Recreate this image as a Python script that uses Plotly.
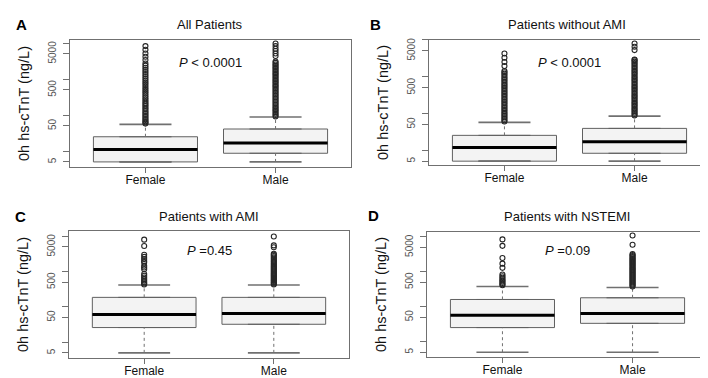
import plotly.graph_objects as go

W, H = 708, 378

groups = ["Female", "Male"]
positions = [1, 2]

panel_letters = ["A", "B", "C", "D"]
panel_titles = ["All Patients", "Patients without AMI", "Patients with AMI", "Patients with NSTEMI"]
p_texts = ["<i>P</i> &lt; 0.0001", "<i>P</i> &lt; 0.0001", "<i>P</i> =0.45", "<i>P</i> =0.09"]

# box statistics per panel: [Female, Male]
q1 = [[5, 8.7], [5, 8.2], [26, 32.2], [25.3, 33.5]]
median = [[11, 16.8], [11.7, 17], [60.5, 64.6], [56.6, 64.4]]
q3 = [[25, 41], [25.2, 39], [186, 186], [161, 180]]
lower = [[5, 5], [5, 5], [5, 5], [5, 5]]
upper = [[55, 88], [56.7, 84], [415, 415], [378, 354]]

outliers_A_f = [58, 62, 67, 73, 80, 88, 97, 107, 118, 130, 144, 160, 178, 198, 220, 245, 275, 310,
                350, 395, 445, 500, 565, 640, 725, 820, 930, 1050, 1200, 1370, 1570, 1800, 2060,
                2360, 2700, 3380, 4170, 5150, 6520, 8240]
outliers_A_m = [92, 100, 110, 121, 133, 146, 160, 176, 194, 213, 235, 258, 284, 312, 343, 378, 415,
                457, 502, 552, 608, 668, 735, 810, 890, 980, 1080, 1190, 1310, 1440, 1580, 1740,
                1920, 2110, 2320, 2550, 2810, 3090, 4370, 5150, 6000, 6930, 8240, 9720]
outliers_B_f = [60, 65, 71, 78, 86, 95, 104, 115, 127, 140, 154, 170, 187, 206, 227, 250, 276, 304,
                335, 369, 407, 448, 494, 545, 600, 662, 730, 805, 887, 978, 1080, 1190, 1310, 1420,
                1940, 2490, 3260, 4260]
outliers_B_m = [88, 96, 105, 115, 126, 138, 151, 165, 181, 198, 217, 238, 260, 285, 312, 342, 375,
                410, 450, 492, 540, 590, 648, 710, 777, 851, 933, 1020, 1120, 1230, 1340, 1470,
                1610, 1770, 1940, 2120, 2330, 2550, 2800, 2930, 5260, 6470, 7940]
outliers_C_f = [430, 460, 500, 550, 610, 680, 760, 850, 1170, 1300, 1460, 1810, 2000, 2250, 2600,
                2990, 5300, 8000]
outliers_C_m = [430, 455, 480, 510, 540, 575, 610, 650, 690, 735, 780, 830, 885, 940, 1000, 1070,
                1140, 1220, 1300, 1390, 1490, 1600, 1720, 1850, 2000, 2170, 2350, 2550, 2770, 3000,
                3200, 4900, 5500, 9800]
outliers_D_f = [410, 440, 475, 515, 560, 610, 670, 740, 830, 1290, 1700, 2470, 5500, 8400]
outliers_D_m = [380, 405, 430, 460, 490, 525, 560, 600, 640, 685, 730, 780, 835, 890, 950, 1020,
                1090, 1160, 1240, 1330, 1420, 1520, 1630, 1740, 1860, 1990, 2130, 2280, 2440, 2610,
                2800, 3000, 3210, 5900, 10900]
outliers = [[outliers_A_f, outliers_A_m], [outliers_B_f, outliers_B_m],
            [outliers_C_f, outliers_C_m], [outliers_D_f, outliers_D_m]]

y_tickvals = [5, 10, 50, 100, 500, 1000, 5000, 10000]
y_ticktext = ["5", "", "50", "", "500", "", "5000", ""]
y_title = "0h hs-cTnT (ng/L)"

# layout (pixel) geometry of each panel's plot area: left, right, top, bottom
frames = [(62, 343, 30, 158), (421, 702, 30, 156), (61, 341, 222, 350), (419, 700, 223, 349)]
y_ranges = [[0.553, 4.09], [0.59, 4.0], [0.549, 4.153], [0.558, 4.141]]
title_px = [(202, 15), (559, 15), (201, 208), (559, 208)]
letter_px = [(13, 15), (367, 15), (12, 208), (366, 207)]
p_ypx = [53, 53, 242, 242]

FONT = "Liberation Sans, Arial, sans-serif"
BOX_W = 0.8
STAPLE_W = 0.4
GRAY = "#707070"

fig = go.Figure()
layout = {}

for i in range(4):
    sx = "" if i == 0 else str(i + 1)
    xr, yr = "x" + sx, "y" + sx
    for g in range(2):
        pos = positions[g]
        # box body
        fig.add_trace(go.Box(
            x=[pos], q1=[q1[i][g]], median=[median[i][g]], q3=[q3[i][g]],
            lowerfence=[q1[i][g]], upperfence=[q3[i][g]],
            width=BOX_W, fillcolor="#f3f3f3", line=dict(color="#606060", width=1),
            boxpoints=False, xaxis=xr, yaxis=yr, showlegend=False, hoverinfo="skip"))
        # dashed whiskers
        fig.add_trace(go.Scatter(
            x=[pos, pos, None, pos, pos],
            y=[q3[i][g], upper[i][g], None, lower[i][g], q1[i][g]],
            mode="lines", line=dict(color=GRAY, width=1, dash="3px,3px"),
            xaxis=xr, yaxis=yr, showlegend=False, hoverinfo="skip"))
        # staples
        fig.add_trace(go.Scatter(
            x=[pos - STAPLE_W / 2, pos + STAPLE_W / 2, None, pos - STAPLE_W / 2, pos + STAPLE_W / 2],
            y=[upper[i][g], upper[i][g], None, lower[i][g], lower[i][g]],
            mode="lines", line=dict(color=GRAY, width=1.6),
            xaxis=xr, yaxis=yr, showlegend=False, hoverinfo="skip"))
        # median
        fig.add_trace(go.Scatter(
            x=[pos - BOX_W / 2, pos + BOX_W / 2], y=[median[i][g], median[i][g]],
            mode="lines", line=dict(color="black", width=3),
            xaxis=xr, yaxis=yr, showlegend=False, hoverinfo="skip"))
        # outliers
        fig.add_trace(go.Scatter(
            x=[pos] * len(outliers[i][g]), y=outliers[i][g], mode="markers",
            marker=dict(symbol="circle-open", size=5, color="#262626", line=dict(width=1.1)),
            xaxis=xr, yaxis=yr, showlegend=False, hoverinfo="skip"))

    l, r, t, b = frames[i]
    layout["xaxis" + sx] = dict(
        domain=[l / W, r / W], anchor=yr, range=[0.42, 2.58],
        tickvals=positions, ticktext=groups, ticks="outside", ticklen=5, tickcolor=GRAY,
        ticklabelstandoff=-4,
        showline=True, mirror=True, linecolor=GRAY, linewidth=1, showgrid=False, zeroline=False,
        tickfont=dict(family=FONT, size=12, color="#111"), fixedrange=True)
    layout["yaxis" + sx] = dict(
        domain=[1 - b / H, 1 - t / H], anchor=xr, type="log", range=y_ranges[i],
        tickvals=y_tickvals, ticktext=y_ticktext, tickangle=-90, ticks="outside", ticklen=6,
        tickcolor=GRAY, ticklabelstandoff=3,
        showline=True, mirror=True, linecolor=GRAY, linewidth=1,
        showgrid=False, zeroline=False, tickfont=dict(family=FONT, size=10, color="#555"),
        title=dict(text=y_title, font=dict(family=FONT, size=14.5, color="#111"), standoff=13),
        fixedrange=True)

annotations = []
for i in range(4):
    sx = "" if i == 0 else str(i + 1)
    tx, ty = title_px[i]
    annotations.append(dict(x=tx / W, y=1 - ty / H, xref="paper", yref="paper",
                            text=panel_titles[i], showarrow=False, xanchor="center", yanchor="middle",
                            font=dict(family=FONT, size=13, color="#111")))
    lx, ly = letter_px[i]
    annotations.append(dict(x=lx / W, y=1 - ly / H, xref="paper", yref="paper",
                            text="<b>" + panel_letters[i] + "</b>", showarrow=False,
                            xanchor="center", yanchor="middle",
                            font=dict(family=FONT, size=15, color="black")))
    annotations.append(dict(x=1.5, y=1 - p_ypx[i] / H, xref="x" + sx, yref="paper",
                            text=p_texts[i], showarrow=False, xanchor="center", yanchor="middle",
                            font=dict(family=FONT, size=13, color="#111")))

fig.update_layout(width=W, height=H, margin=dict(l=0, r=0, t=0, b=0),
                  paper_bgcolor="white", plot_bgcolor="white",
                  annotations=annotations, showlegend=False, **layout)

fig.write_html("out.html")
